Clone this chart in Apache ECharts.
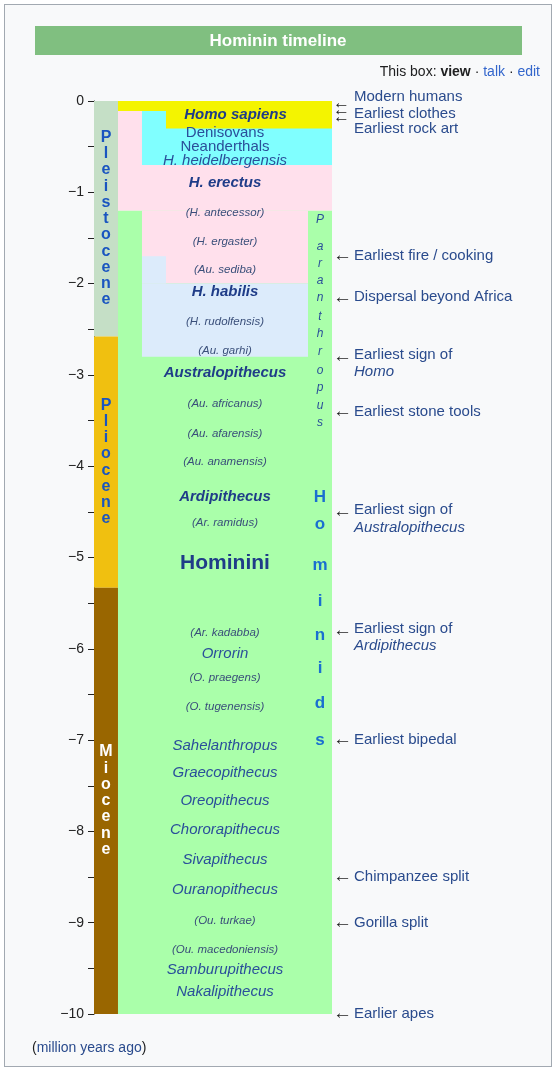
<!DOCTYPE html>
<html><head><meta charset="utf-8">
<script src="https://cdn.jsdelivr.net/npm/echarts@6/dist/echarts.min.js"></script>
<style>
html,body{margin:0;padding:0;background:#fff}
#box{position:absolute;left:4px;top:4px;width:546px;height:1061px;border:1px solid #a2a9b1;background:#f8f9fa}
#c{position:absolute;left:0;top:0;width:556px;height:1069px}
</style></head><body>
<div id="box"></div>
<div id="c"></div>
<script>
// epochs (million years ago)
const epochs = [
  ['Pleistocene', 0, 2.58, '#c5dfc6', '#1a55c0'],
  ['Pliocene', 2.58, 5.33, '#f0c010', '#1a55c0'],
  ['Miocene', 5.33, 10, '#996600', '#ffffff']
];
// coloured blocks: column from, column to, start, end, colour
const blocks = [
  [1, 9.92, 1.2, 10, '#aaffaa'],
  [1, 9.92, 0, 1.2, '#ffe0ec'],
  [2, 8.92, 1.2, 2.0, '#ffe0ec'],
  [2, 8.92, 2.0, 2.8, '#dcebfb'],
  [2, 3, 1.7, 2.0, '#dcebfb'],
  [2, 9.92, 0, 0.7, '#80ffff'],
  [1, 9.92, 0, 0.11, '#f4f400'],
  [3, 9.92, 0, 0.3, '#f4f400']
];
// taxon labels: name, age, style (b = bold italic, i = italic, p = small italic, n = normal, h = big)
const taxa = [
  ['Homo sapiens', 0.15, 'b', 5.9],
  ['Denisovans', 0.35, 'n'], ['Neanderthals', 0.5, 'n'], ['H. heidelbergensis', 0.65, 'i'],
  ['H. erectus', 0.9, 'b'], ['(H. antecessor)', 1.22, 'p'], ['(H. ergaster)', 1.54, 'p'],
  ['(Au. sediba)', 1.85, 'p'], ['H. habilis', 2.09, 'b'], ['(H. rudolfensis)', 2.42, 'p'],
  ['(Au. garhi)', 2.74, 'p'], ['Australopithecus', 2.98, 'b'], ['(Au. africanus)', 3.32, 'p'],
  ['(Au. afarensis)', 3.64, 'p'], ['(Au. anamensis)', 3.95, 'p'], ['Ardipithecus', 4.34, 'b'],
  ['(Ar. ramidus)', 4.62, 'p'], ['Hominini', 5.06, 'h'], ['(Ar. kadabba)', 5.83, 'p'],
  ['Orrorin', 6.06, 'i'], ['(O. praegens)', 6.32, 'p'], ['(O. tugenensis)', 6.64, 'p'],
  ['Sahelanthropus', 7.06, 'i'], ['Graecopithecus', 7.36, 'i'], ['Oreopithecus', 7.66, 'i'],
  ['Chororapithecus', 7.98, 'i'], ['Sivapithecus', 8.31, 'i'], ['Ouranopithecus', 8.64, 'i'],
  ['(Ou. turkae)', 8.98, 'p'], ['(Ou. macedoniensis)', 9.3, 'p'], ['Samburupithecus', 9.52, 'i'],
  ['Nakalipithecus', 9.76, 'i']
];
// vertical words
const paranthropus = ['P','a','r','a','n','t','h','r','o','p','u','s'];
const paranthropusAges = [1.3, 1.6, 1.78, 1.97, 2.15, 2.36, 2.55, 2.75, 2.95, 3.14, 3.34, 3.52];
const hominids = ['H','o','m','i','n','i','d','s'];
const hominidsAges = [4.34, 4.64, 5.09, 5.48, 5.85, 6.21, 6.6, 7.0];
// events on the right
const events = [
  ['Modern humans', -0.04, null], ['Earliest clothes', 0.14, null], ['Earliest rock art', 0.31, null],
  ['Earliest fire / cooking', 1.7, 1.7], ['Dispersal beyond Africa', 2.15, 2.15],
  ['Earliest sign of\n{i|Homo}', 2.8, 2.8], ['Earliest stone tools', 3.4, 3.4],
  ['Earliest sign of\n{i|Australopithecus}', 4.5, 4.5], ['Earliest sign of\n{i|Ardipithecus}', 5.8, 5.8],
  ['Earliest bipedal', 7.0, 7.0], ['Chimpanzee split', 8.5, 8.5], ['Gorilla split', 9.0, 9.0],
  ['Earlier apes', 10, 10]
];

const chart = echarts.init(document.getElementById('c'));
const navy = '#1f3c88';
const rect = (x0, x1, y0, y1, color, api) => {
  const a = api.coord([x0, -y0]), b = api.coord([x1, -y1]);
  return {type: 'rect', shape: {x: a[0], y: a[1], width: b[0] - a[0], height: b[1] - a[1]}, style: {fill: color}};
};
const styleOf = s => ({
  b: {font: 'italic bold 15px Arial', fill: navy},
  i: {font: 'italic 15px Arial', fill: '#2a4f9a'},
  n: {font: '15px Arial', fill: '#2a4f9a'},
  p: {font: 'italic 11.5px Arial', fill: '#3a4f7a'},
  h: {font: 'bold 21px Arial', fill: navy}
})[s];
const letters = (arr, ages, col, font, color) => arr.map((ch, i) => [ch, ages[i], col, font, color]);

let epochLetters = [];
epochs.forEach(e => {
  const n = e[0].length, mid = (e[1] + e[2]) / 2, step = 0.178;
  for (let i = 0; i < n; i++) epochLetters.push([e[0][i], mid + (i - (n - 1) / 2) * step, 0.5, 'bold 16px Arial', e[4]]);
});
const vert = epochLetters
  .concat(letters(paranthropus, paranthropusAges, 9.42, 'italic 12px Arial', '#2a4f9a'))
  .concat(letters(hominids, hominidsAges, 9.42, 'bold 17px Arial', '#1a6fd0'));

chart.setOption({
  animation: false,
  grid: {left: 94, right: 224, top: 101, bottom: 55},
  xAxis: {type: 'value', min: 0, max: 9.92, show: false},
  yAxis: {
    type: 'value', min: -10, max: 0, interval: 1,
    axisLine: {show: true, lineStyle: {color: '#222'}},
    axisTick: {show: true, length: 6, lineStyle: {color: '#222'}},
    minorTick: {show: true, splitNumber: 2, length: 6, lineStyle: {color: '#222'}},
    splitLine: {show: false},
    axisLabel: {color: '#222', fontSize: 14, fontFamily: 'Arial', margin: 10, formatter: v => v === 0 ? '0' : '\u2212' + Math.abs(v)}
  },
  graphic: [
    {type: 'rect', shape: {x: 35, y: 26, width: 487, height: 29}, style: {fill: '#80bf80'}},
    {type: 'text', x: 278, y: 41, style: {text: 'Hominin timeline', font: 'bold 17px Arial', fill: '#fff', align: 'center', verticalAlign: 'middle'}},
    {type: 'text', x: 540, y: 72, style: {text: 'This box: {b|view} · {l|talk} · {l|edit}', font: '14px Arial', fill: '#202122', align: 'right', verticalAlign: 'middle',
      rich: {b: {font: 'bold 14px Arial', fill: '#202122'}, l: {font: '14px Arial', fill: '#3366cc'}}}},
    {type: 'text', x: 32, y: 1048, style: {text: '({l|million years ago})', font: '14px Arial', fill: '#202122', verticalAlign: 'middle',
      rich: {l: {font: '14px Arial', fill: '#2a4b8d'}}}},
    {type: 'text', x: 333, y: 110, style: {text: '\u2190\n\u2190\n\u2190', font: '17px Arial', lineHeight: 7, fill: '#222', verticalAlign: 'middle'}}
  ],
  series: [
    {type: 'custom', data: epochs, renderItem: (p, api) => rect(0, 1, epochs[p.dataIndex][1], epochs[p.dataIndex][2], epochs[p.dataIndex][3], api)},
    {type: 'custom', data: blocks, renderItem: (p, api) => { const b = blocks[p.dataIndex]; return rect(b[0], b[1], b[2], b[3], b[4], api); }},
    {type: 'custom', data: taxa, renderItem: (p, api) => {
      const t = taxa[p.dataIndex], c = api.coord([t[3] || 5.46, -t[1]]);
      return {type: 'text', x: c[0], y: c[1], style: Object.assign({text: t[0], align: 'center', verticalAlign: 'middle'}, styleOf(t[2]))};
    }},
    {type: 'custom', data: vert, renderItem: (p, api) => {
      const t = vert[p.dataIndex], c = api.coord([t[2], -t[1]]);
      return {type: 'text', x: c[0], y: c[1], style: {text: t[0], font: t[3], fill: t[4], align: 'center', verticalAlign: 'middle'}};
    }},
    {type: 'custom', data: events, clip: false, renderItem: (p, api) => {
      const e = events[p.dataIndex], c = api.coord([9.92, -e[1]]), kids = [];
      const two = e[0].indexOf('\n') >= 0;
      kids.push({type: 'text', x: c[0] + 22, y: c[1] + (two ? 7 : 0), style: {text: e[0], font: '15px Arial', fill: '#2a4b8d', verticalAlign: 'middle', lineHeight: 17,
        rich: {i: {font: 'italic 15px Arial', fill: '#2a4b8d'}}}});
      if (e[2] !== null) kids.push({type: 'text', x: c[0] + 1, y: c[1], style: {text: '\u2190', font: '19px Arial', fill: '#222', verticalAlign: 'middle'}});
      return {type: 'group', children: kids};
    }}
  ]
});
</script>
</body></html>
